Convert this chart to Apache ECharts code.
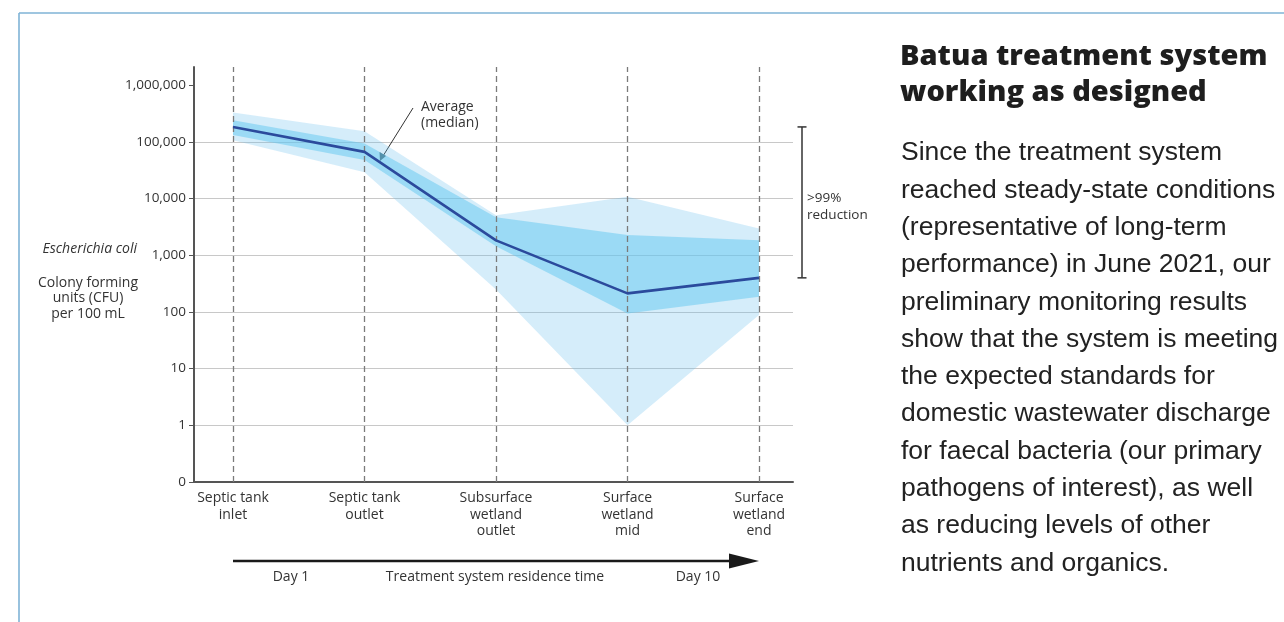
<!DOCTYPE html>
<html><head><meta charset="utf-8">
<script src="https://cdn.jsdelivr.net/npm/echarts@6/dist/echarts.min.js"></script>
<style>html,body{margin:0;padding:0;background:#fff}#c{width:1284px;height:622px}</style>
</head><body><div id="c"></div>
<script>
// ---- data ----
const categories = ['Septic tank\ninlet', 'Septic tank\noutlet', 'Subsurface\nwetland\noutlet', 'Surface\nwetland\nmid', 'Surface\nwetland\nend'];
const median    = [184000, 66800, 1830, 213, 400];
const iqrLow    = [132000, 48000, 1450, 94, 185];
const iqrHigh   = [242000, 94000, 4700, 2270, 1850];
const rangeLow  = [107000, 29300, 250, 1, 88];
const rangeHigh = [331000, 155000, 5100, 10800, 2980];
const yTickValues = [0.1, 1, 10, 100, 1000, 10000, 100000, 1000000];
const catIndex = [0, 1, 2, 3, 4];
const bodyLines = [
  'Since the treatment system',
  'reached steady-state conditions',
  '(representative of long-term',
  'performance) in June 2021, our',
  'preliminary monitoring results',
  'show that the system is meeting',
  'the expected standards for',
  'domestic wastewater discharge',
  'for faecal bacteria (our primary',
  'pathogens of interest), as well',
  'as reducing levels of other',
  'nutrients and organics.'
];
const titleLines = ['Batua treatment system', 'working as designed'];

const FONT = 'Open Sans';
const chart = echarts.init(document.getElementById('c'), null, {renderer: 'canvas'});
const pairs = arr => arr.map((v, i) => [catIndex[i], v]);
const fmtY = v => (v < 0.5 ? '0' : Math.round(v).toLocaleString('en-US'));

// a band between two value arrays, drawn as one polygon through the axes
function bandSeries(lo, hi, color, z) {
  return {
    type: 'custom', silent: true, z: z,
    data: [[catIndex[0], lo[0], hi[0]]],
    encode: {x: 0, y: [1, 2]},
    renderItem: (params, api) => {
      const top = catIndex.map(i => api.coord([i, hi[i]]));
      const bot = catIndex.map(i => api.coord([i, lo[i]])).reverse();
      return {type: 'polygon', shape: {points: top.concat(bot)}, style: {fill: color}};
    }
  };
}

const option = {
  animation: false,
  backgroundColor: '#ffffff',
  textStyle: {fontFamily: FONT},
  grid: {left: 194, right: 491, top: 67, bottom: 140, containLabel: false},
  xAxis: {
    type: 'value', min: -0.2966, max: 4.2586,
    axisLine: {show: true, onZero: false, lineStyle: {color: '#555', width: 2}},
    axisTick: {show: false},
    splitLine: {show: false},
    axisLabel: {
      customValues: catIndex, margin: 8, color: '#333', fontSize: 14, lineHeight: 16.5,
      fontFamily: FONT, align: 'center', verticalAlign: 'top',
      formatter: v => categories[Math.round(v)] || ''
    }
  },
  yAxis: {
    type: 'log', logBase: 10, min: 0.1, max: 2100000,
    axisLine: {show: true, onZero: false, lineStyle: {color: '#555', width: 2}},
    axisTick: {show: true, customValues: yTickValues, length: 5, lineStyle: {color: '#555', width: 1}},
    axisLabel: {customValues: yTickValues, margin: 8, color: '#333', fontSize: 13.5, fontFamily: FONT, formatter: fmtY},
    splitLine: {show: true, showMinLine: false, showMaxLine: false, lineStyle: {color: '#c8c8c8', width: 1}}
  },
  series: [
    bandSeries(rangeLow, rangeHigh, 'rgba(100,190,235,0.27)', 1),
    bandSeries(iqrLow, iqrHigh, 'rgba(100,200,240,0.51)', 2),
    {type: 'line', name: 'median', data: pairs(median), symbol: 'none', silent: true,
     lineStyle: {color: '#2b4a9c', width: 2.6}, z: 5,
     markLine: {
       silent: true, symbol: ['none', 'none'], label: {show: false}, animation: false,
       lineStyle: {type: [6, 4], color: '#7a7a7a', width: 1.3},
       data: catIndex.map(i => ({xAxis: i}))
     }}
  ]
};
chart.setOption(option);

// ---- annotations, positioned from the axes ----
const P = (x, y) => chart.convertToPixel({gridIndex: 0}, [x, y]);
const bTop = P(0, median[0])[1];
const bBot = P(0, median[4])[1];
const x0 = P(0, 1)[0];
const x4 = P(4, 1)[0];
const bx = 802;
const ay = 561;
const small = {fontFamily: FONT, fontSize: 14, fill: '#333'};
const graphics = [
  // frame
  {type: 'line', shape: {x1: 19, y1: 13, x2: 1284, y2: 13}, style: {stroke: '#7fb3d6', lineWidth: 1.6}},
  {type: 'line', shape: {x1: 19, y1: 13, x2: 19, y2: 622}, style: {stroke: '#7fb3d6', lineWidth: 1.6}},
  // y-axis title
  {type: 'text', x: 137, y: 249, style: Object.assign({}, small, {text: 'Escherichia coli', fontStyle: 'italic', align: 'right', verticalAlign: 'middle'})},
  {type: 'text', x: 88, y: 298.5, style: Object.assign({}, small, {text: 'Colony forming\nunits (CFU)\nper 100 mL', lineHeight: 15.5, align: 'center', verticalAlign: 'middle'})},
  // median annotation
  {type: 'line', shape: {x1: 413, y1: 108, x2: 383, y2: 156}, style: {stroke: '#333', lineWidth: 1}},
  {type: 'polygon', shape: {points: [[380, 161], [379.5, 152], [386, 156]]}, style: {fill: '#333'}},
  {type: 'text', x: 421, y: 115, style: Object.assign({}, small, {text: 'Average\n(median)', lineHeight: 15.5, align: 'left', verticalAlign: 'middle'})},
  // reduction bracket
  {type: 'line', shape: {x1: bx, y1: bTop, x2: bx, y2: bBot}, style: {stroke: '#333', lineWidth: 1.5}},
  {type: 'line', shape: {x1: bx - 4.5, y1: bTop, x2: bx + 4.5, y2: bTop}, style: {stroke: '#333', lineWidth: 1.5}},
  {type: 'line', shape: {x1: bx - 4.5, y1: bBot, x2: bx + 4.5, y2: bBot}, style: {stroke: '#333', lineWidth: 1.5}},
  {type: 'text', x: 807, y: 207, style: Object.assign({}, small, {text: '>99%\nreduction', fontSize: 13.5, lineHeight: 17, align: 'left', verticalAlign: 'middle'})},
  // residence time arrow
  {type: 'line', shape: {x1: x0, y1: ay, x2: x4 - 28, y2: ay}, style: {stroke: '#1a1a1a', lineWidth: 2.7}},
  {type: 'polygon', shape: {points: [[x4 - 30, ay - 7.5], [x4, ay], [x4 - 30, ay + 7.5]]}, style: {fill: '#1a1a1a'}},
  {type: 'text', x: 291, y: 577, style: Object.assign({}, small, {text: 'Day 1', align: 'center', verticalAlign: 'middle'})},
  {type: 'text', x: 495, y: 577, style: Object.assign({}, small, {text: 'Treatment system residence time', align: 'center', verticalAlign: 'middle'})},
  {type: 'text', x: 698, y: 577, style: Object.assign({}, small, {text: 'Day 10', align: 'center', verticalAlign: 'middle'})}
];
titleLines.forEach((t, i) => graphics.push({type: 'text', x: 900, y: 57 + i * 36,
  style: {text: t, fontFamily: 'Open Sans', fontWeight: 800, fontSize: 29, fill: '#1e1e1e', align: 'left', verticalAlign: 'middle'}}));
bodyLines.forEach((t, i) => graphics.push({type: 'text', x: 901, y: 153 + i * 37.3,
  style: {text: t, fontFamily: 'Liberation Sans', fontSize: 26.5, fill: '#222', align: 'left', verticalAlign: 'middle'}}));
chart.setOption({graphic: graphics});
</script></body></html>
